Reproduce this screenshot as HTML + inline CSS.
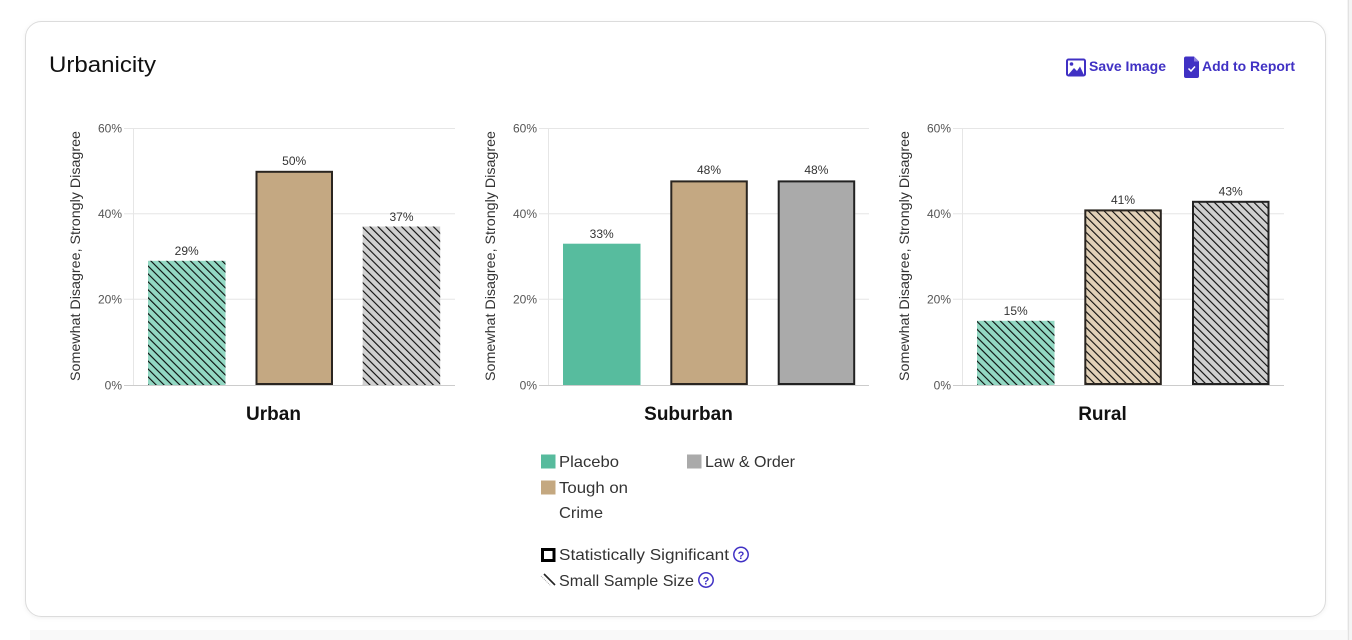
<!DOCTYPE html>
<html><head><meta charset="utf-8"><style>
html,body{margin:0;padding:0;background:#fff;width:1352px;height:640px;overflow:hidden}
svg{display:block}
text{font-family:"Liberation Sans",Arial,sans-serif}
</style></head><body>
<svg width="1352" height="640" viewBox="0 0 1352 640" xmlns="http://www.w3.org/2000/svg">
<defs>
<pattern id="h1" width="5.6" height="5.6" patternUnits="userSpaceOnUse" patternTransform="rotate(-45)">
<rect width="5.6" height="5.6" fill="#93d8c3"/><line x1="0.6" y1="0" x2="0.6" y2="5.6" stroke="#000" stroke-width="1.05"/></pattern>
<pattern id="h2" width="5.6" height="5.6" patternUnits="userSpaceOnUse" patternTransform="rotate(-45)">
<rect width="5.6" height="5.6" fill="#e2d1b8"/><line x1="0.6" y1="0" x2="0.6" y2="5.6" stroke="#000" stroke-width="1.05"/></pattern>
<pattern id="h3" width="5.6" height="5.6" patternUnits="userSpaceOnUse" patternTransform="rotate(-45)">
<rect width="5.6" height="5.6" fill="#d0d0d0"/><line x1="0.6" y1="0" x2="0.6" y2="5.6" stroke="#000" stroke-width="1.05"/></pattern>
<filter id="sh" x="-5%" y="-5%" width="110%" height="110%"><feDropShadow dx="0" dy="1" stdDeviation="2" flood-color="#000" flood-opacity="0.06"/></filter>
</defs>
<rect x="30" y="630" width="1317" height="10" fill="#f9f9f9"/>
<rect x="1347" y="0" width="5" height="640" fill="#f4f4f4"/>
<line x1="1348.5" y1="0" x2="1348.5" y2="640" stroke="#e2e2e2"/>
<rect x="25.5" y="21.5" width="1300" height="595" rx="16" fill="#fff" stroke="#dcdcdc" filter="url(#sh)"/>

<text x="49" y="72" font-size="22" fill="#111" textLength="107" lengthAdjust="spacingAndGlyphs">Urbanicity</text>

<!-- Save Image icon -->
<rect x="1067" y="59.5" width="18" height="16" rx="1.5" fill="none" stroke="#4031c4" stroke-width="2"/>
<circle cx="1071.5" cy="64" r="1.8" fill="#4031c4"/>
<path d="M1068 75 L1074 68 L1077 71 L1080 66.5 L1084 75 Z" fill="#4031c4"/>
<text x="1089" y="71" font-size="14" font-weight="bold" fill="#4031c4" textLength="77" lengthAdjust="spacingAndGlyphs">Save Image</text>
<!-- Add to report icon -->
<path d="M1186 56.5 H1194 L1199 61.5 V76 Q1199 78 1197 78 H1186 Q1184 78 1184 76 V58.5 Q1184 56.5 1186 56.5 Z" fill="#4031c4"/>
<path d="M1194 56.5 V61.5 H1199" fill="#8c80e0"/>
<path d="M1188.5 68.5 L1191 71 L1195 66.5" fill="none" stroke="#fff" stroke-width="1.5"/>
<text x="1202" y="71" font-size="14" font-weight="bold" fill="#4031c4" textLength="93" lengthAdjust="spacingAndGlyphs">Add to Report</text>

<!-- Chart 1: Urban -->
<g>
<g stroke="#e6e6e6" stroke-width="1">
<line x1="124" y1="128.5" x2="455" y2="128.5"/>
<line x1="124" y1="213.8" x2="455" y2="213.8"/>
<line x1="124" y1="299.3" x2="455" y2="299.3"/>
<line x1="133.5" y1="128" x2="133.5" y2="385"/>
</g>
<line x1="124" y1="385.5" x2="455" y2="385.5" stroke="#cccccc"/>
<g font-size="12" fill="#555" text-anchor="end">
<text x="122" y="132.5">60%</text><text x="122" y="218">40%</text><text x="122" y="303.5">20%</text><text x="122" y="389.5">0%</text>
</g>
<text transform="translate(80,256) rotate(-90)" font-size="14" fill="#333" text-anchor="middle" textLength="250" lengthAdjust="spacingAndGlyphs">Somewhat Disagree, Strongly Disagree</text>
<rect x="148" y="260.8" width="77.5" height="124.2" fill="url(#h1)"/>
<rect x="256.5" y="171.8" width="75.5" height="212.2" fill="#c4a882" stroke="#2a2520" stroke-width="2"/>
<rect x="362.7" y="226.5" width="77.5" height="158.5" fill="url(#h3)"/>
<g font-size="12" fill="#333" text-anchor="middle">
<text x="186.7" y="255">29%</text><text x="294.2" y="165">50%</text><text x="401.5" y="221">37%</text>
</g>
<text x="273.5" y="420" font-size="19" font-weight="bold" fill="#111" text-anchor="middle">Urban</text>
</g>

<!-- Chart 2: Suburban -->
<g transform="translate(415,0)">
<g stroke="#e6e6e6" stroke-width="1">
<line x1="124" y1="128.5" x2="454" y2="128.5"/>
<line x1="124" y1="213.8" x2="454" y2="213.8"/>
<line x1="124" y1="299.3" x2="454" y2="299.3"/>
<line x1="133.5" y1="128" x2="133.5" y2="385"/>
</g>
<line x1="124" y1="385.5" x2="454" y2="385.5" stroke="#cccccc"/>
<g font-size="12" fill="#555" text-anchor="end">
<text x="122" y="132.5">60%</text><text x="122" y="218">40%</text><text x="122" y="303.5">20%</text><text x="122" y="389.5">0%</text>
</g>
<text transform="translate(80,256) rotate(-90)" font-size="14" fill="#333" text-anchor="middle" textLength="250" lengthAdjust="spacingAndGlyphs">Somewhat Disagree, Strongly Disagree</text>
<rect x="148" y="243.7" width="77.5" height="141.3" fill="#57bc9e"/>
<rect x="256.3" y="181.4" width="75.5" height="202.6" fill="#c4a882" stroke="#2a2520" stroke-width="2"/>
<rect x="363.7" y="181.4" width="75.5" height="202.6" fill="#aaaaaa" stroke="#222" stroke-width="2"/>
<g font-size="12" fill="#333" text-anchor="middle">
<text x="186.7" y="238">33%</text><text x="294" y="174">48%</text><text x="401.4" y="174">48%</text>
</g>
<text x="273.5" y="420" font-size="19" font-weight="bold" fill="#111" text-anchor="middle">Suburban</text>
</g>

<!-- Chart 3: Rural -->
<g transform="translate(829,0)">
<g stroke="#e6e6e6" stroke-width="1">
<line x1="124" y1="128.5" x2="455" y2="128.5"/>
<line x1="124" y1="213.8" x2="455" y2="213.8"/>
<line x1="124" y1="299.3" x2="455" y2="299.3"/>
<line x1="133.5" y1="128" x2="133.5" y2="385"/>
</g>
<line x1="124" y1="385.5" x2="455" y2="385.5" stroke="#cccccc"/>
<g font-size="12" fill="#555" text-anchor="end">
<text x="122" y="132.5">60%</text><text x="122" y="218">40%</text><text x="122" y="303.5">20%</text><text x="122" y="389.5">0%</text>
</g>
<text transform="translate(80,256) rotate(-90)" font-size="14" fill="#333" text-anchor="middle" textLength="250" lengthAdjust="spacingAndGlyphs">Somewhat Disagree, Strongly Disagree</text>
<rect x="148" y="320.8" width="77.5" height="64.2" fill="url(#h1)"/>
<rect x="256.3" y="210.4" width="75.5" height="173.6" fill="url(#h2)" stroke="#2a2520" stroke-width="2"/>
<rect x="364" y="201.8" width="75.5" height="182.2" fill="url(#h3)" stroke="#222" stroke-width="2"/>
<g font-size="12" fill="#333" text-anchor="middle">
<text x="186.7" y="315">15%</text><text x="294" y="204">41%</text><text x="401.7" y="195.5">43%</text>
</g>
<text x="273.5" y="420" font-size="19" font-weight="bold" fill="#111" text-anchor="middle">Rural</text>
</g>

<!-- Legend -->
<g font-size="16" fill="#333">
<rect x="541" y="454.5" width="14.5" height="14" fill="#57bb9d"/>
<text x="559" y="467" textLength="60" lengthAdjust="spacingAndGlyphs">Placebo</text>
<rect x="687" y="454.5" width="14.5" height="14" fill="#aaaaaa"/>
<text x="705" y="467" textLength="90" lengthAdjust="spacingAndGlyphs">Law &amp; Order</text>
<rect x="541" y="480.5" width="14.5" height="14" fill="#c4a880"/>
<text x="559" y="493" textLength="69" lengthAdjust="spacingAndGlyphs">Tough on</text>
<text x="559" y="518" textLength="44" lengthAdjust="spacingAndGlyphs">Crime</text>
<rect x="542.5" y="549.5" width="11.5" height="11" fill="#fff" stroke="#000" stroke-width="3"/>
<text x="559" y="560" textLength="170" lengthAdjust="spacingAndGlyphs">Statistically Significant</text>
<circle cx="741" cy="554.5" r="7.2" fill="none" stroke="#4031c4" stroke-width="1.5"/>
<text x="741" y="559" font-size="11" font-weight="bold" fill="#4031c4" text-anchor="middle">?</text>
<line x1="544" y1="574" x2="555" y2="585" stroke="#222" stroke-width="1.6"/>
<line x1="541" y1="576" x2="551" y2="586" stroke="#999" stroke-width="0.8" stroke-dasharray="1 1"/>
<text x="559" y="586" textLength="135" lengthAdjust="spacingAndGlyphs">Small Sample Size</text>
<circle cx="706" cy="580" r="7.2" fill="none" stroke="#4031c4" stroke-width="1.5"/>
<text x="706" y="584.5" font-size="11" font-weight="bold" fill="#4031c4" text-anchor="middle">?</text>
</g>
</svg>
</body></html>
